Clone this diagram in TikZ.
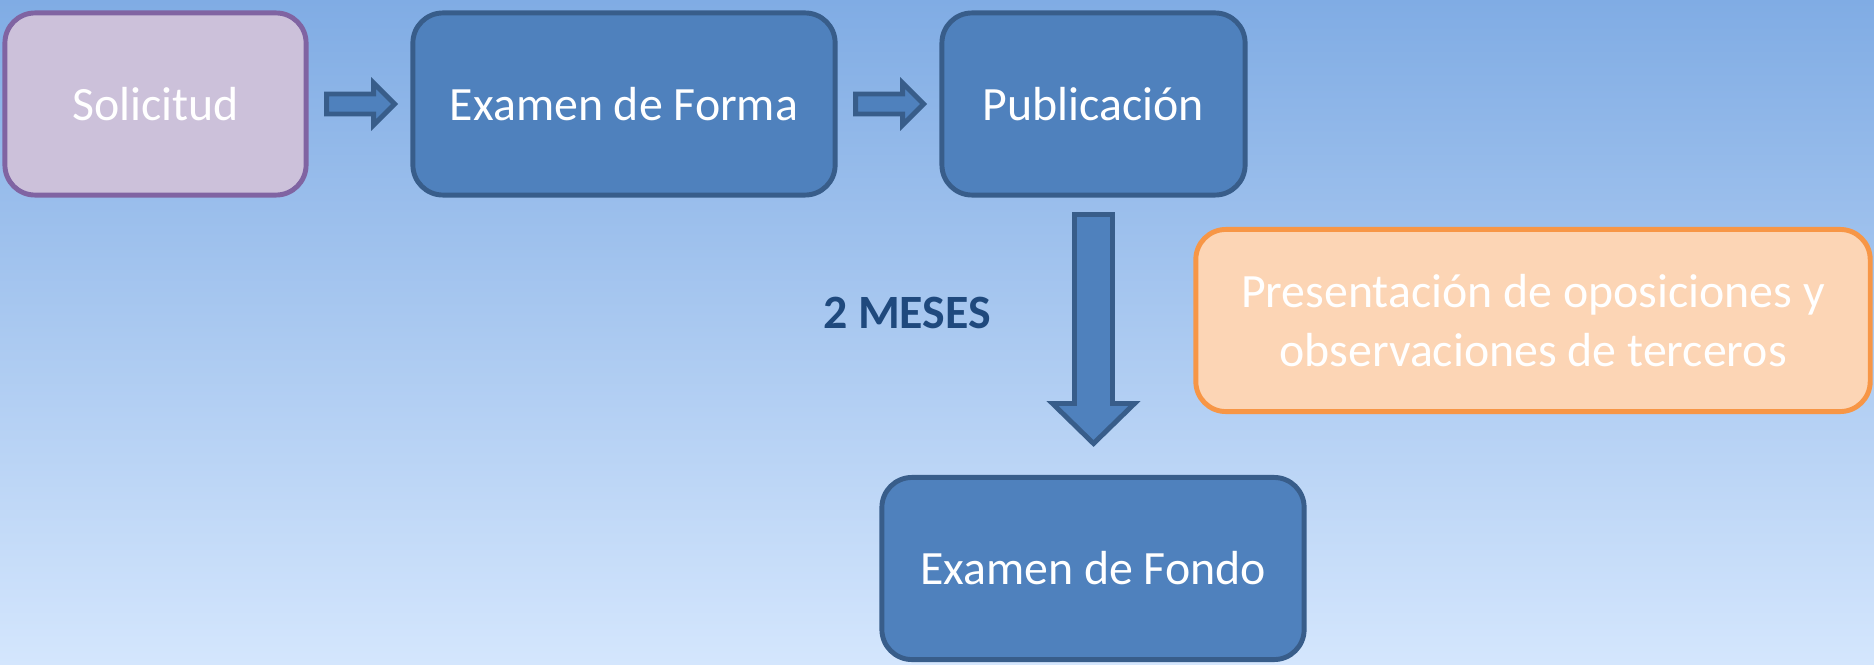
\documentclass[tikz,border=0pt]{standalone}
\usepackage{fontspec}
\setmainfont{Carlito}
\usepackage{tikz}
\usetikzlibrary{calc}
\definecolor{boxblue}{HTML}{4F81BD}
\definecolor{edgeblue}{HTML}{385D8A}
\definecolor{lilac}{HTML}{CCC1DA}
\definecolor{edgelilac}{HTML}{8064A2}
\definecolor{peach}{HTML}{FCD5B5}
\definecolor{edgepeach}{HTML}{F79646}
\definecolor{textnavy}{HTML}{1F497D}
\definecolor{skytop}{HTML}{80ACE4}
\definecolor{skybottom}{HTML}{D4E6FD}

\begin{document}
\begin{tikzpicture}[x=0.01cm,y=-0.01cm,
		stage/.style={rectangle, rounded corners=0.3cm, line width=1.4pt, text=white, inner sep=0pt,
			minimum height=1.82cm, font=\fontsize{13.6}{17}\selectfont},
		bluestage/.style={stage, fill=boxblue, draw=edgeblue},
		flecha/.style={fill=boxblue, draw=edgeblue, line width=1.4pt, line join=miter}]
			\useasboundingbox (0,0) rectangle (1874,664);
			\shade[top color=skytop, bottom color=skybottom] (0,0) rectangle (1874,664);
			\node[stage, fill=lilac, draw=edgelilac, minimum width=3.01cm] (solicitud) at (155.5,104) {Solicitud};
			\node[bluestage, minimum width=4.22cm] (forma) at (624,104) {Examen de Forma};
			\node[bluestage, minimum width=3.03cm] (publicacion) at (1093.5,104) {Publicación};
			\node[bluestage, minimum width=4.22cm] (fondo) at (1093,568.5) {Examen de Fondo};
			\node[stage, fill=peach, draw=edgepeach, minimum width=6.74cm, align=center] (terceros) at (1533,320.5) {Presentación de oposiciones y\\observaciones de terceros};
			\node[text=textnavy, font=\fontsize{13.6}{15}\bfseries\selectfont] (plazo) at (907,313) {2 MESES};
			% block arrows
			\coordinate (ini1) at ($(solicitud.east)+(18,0)$);
			\coordinate (ini2) at ($(forma.east)+(18,0)$);
			\coordinate (ini3) at ($(publicacion.south)+(0,17)$);
			\draw[flecha] (ini1) ++(0,-10) -- ++(47,0) -- ++(0,-11) -- ++(21,21) -- ++(-21,21) -- ++(0,-11) -- ++(-47,0) -- cycle;
			\draw[flecha] (ini2) ++(0,-10) -- ++(47,0) -- ++(0,-11) -- ++(21,21) -- ++(-21,21) -- ++(0,-11) -- ++(-47,0) -- cycle;
			\draw[flecha] (ini3) ++(-19,0) -- ++(0,189) -- ++(-22,0) -- ++(41,40) -- ++(41,-40) -- ++(-22,0) -- ++(0,-189) -- cycle;
		\end{tikzpicture}
\end{document}
